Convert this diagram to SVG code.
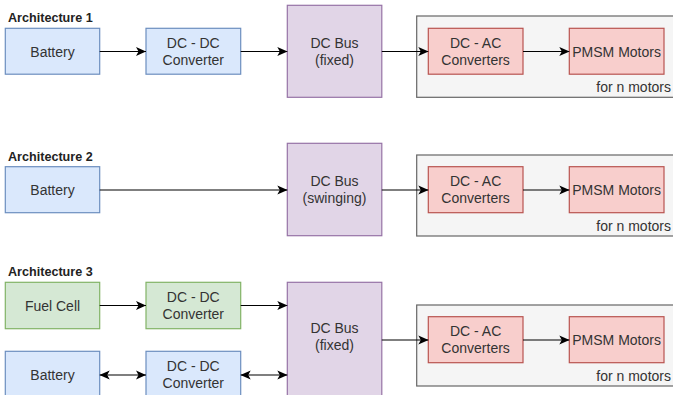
<svg xmlns="http://www.w3.org/2000/svg" width="673" height="395" viewBox="0 0 673 395">
<defs>
<marker id="ah" viewBox="0 0 10 10" refX="10" refY="5" markerWidth="10" markerHeight="10" markerUnits="userSpaceOnUse" orient="auto-start-reverse">
<path d="M0,0.5 L10,5 L0,9.5 L2.5,5 Z" fill="#000"/>
</marker>
<style>
text{font-family:"Liberation Sans",Arial,sans-serif;font-size:14px;fill:#333;}
.t{font-weight:bold;font-size:12.6px;fill:#222;}
.c{text-anchor:middle;}
.r{text-anchor:end;}
.blue{fill:#dae8fc;stroke:#6c8ebf;stroke-width:1.2;}
.green{fill:#d5e8d4;stroke:#82b366;stroke-width:1.2;}
.purple{fill:#e1d5e7;stroke:#9673a6;stroke-width:1.2;}
.red{fill:#f8cecc;stroke:#b85450;stroke-width:1.2;}
.grp{fill:#f5f5f5;stroke:#666;stroke-width:1.2;}
.e{fill:none;stroke:#000;stroke-width:1.2;}
</style>
</defs>
<rect width="673" height="395" fill="#fff"/>
<text class="t" x="8" y="22">Architecture 1</text>
<text class="t" x="8" y="161">Architecture 2</text>
<text class="t" x="8" y="276">Architecture 3</text>

<g id="a1-group"><rect class="grp" x="416.7" y="16" width="270" height="81.3"/><text class="r" x="671" y="92">for n motors</text></g>
<g id="a1-battery"><rect class="blue" x="5.3" y="28.3" width="94.4" height="45.9"/><text class="c" x="52.5" y="56.5">Battery</text></g>
<g id="a1-dcdc"><rect class="blue" x="146" y="28.3" width="94.7" height="45.9"/><text class="c" x="193.3" y="48">DC - DC</text><text class="c" x="193.3" y="65">Converter</text></g>
<g id="a1-bus"><rect class="purple" x="287.3" y="5.3" width="94.5" height="92"/><text class="c" x="334.5" y="48">DC Bus</text><text class="c" x="334.5" y="65">(fixed)</text></g>
<g id="a1-dcac"><rect class="red" x="428.3" y="28.3" width="94.7" height="45.9"/><text class="c" x="475.6" y="48">DC - AC</text><text class="c" x="475.6" y="65">Converters</text></g>
<g id="a1-pmsm"><rect class="red" x="569.3" y="28.3" width="94.7" height="45.9"/><text class="c" x="616.6" y="56.5">PMSM Motors</text></g>

<g id="a2-group"><rect class="grp" x="416.7" y="155" width="270" height="81"/><text class="r" x="671" y="231">for n motors</text></g>
<g id="a2-battery"><rect class="blue" x="5.3" y="166.7" width="94.4" height="46"/><text class="c" x="52.5" y="195">Battery</text></g>
<g id="a2-bus"><rect class="purple" x="287.3" y="143.3" width="94.5" height="92.4"/><text class="c" x="334.5" y="186">DC Bus</text><text class="c" x="334.5" y="203">(swinging)</text></g>
<g id="a2-dcac"><rect class="red" x="428.3" y="166.7" width="94.7" height="46"/><text class="c" x="475.6" y="186">DC - AC</text><text class="c" x="475.6" y="203">Converters</text></g>
<g id="a2-pmsm"><rect class="red" x="569.3" y="166.7" width="94.7" height="46"/><text class="c" x="616.6" y="195">PMSM Motors</text></g>

<g id="a3-group"><rect class="grp" x="416.7" y="305" width="270" height="81"/><text class="r" x="671" y="381">for n motors</text></g>
<g id="a3-fuel"><rect class="green" x="5.3" y="282.3" width="94.4" height="46.4"/><text class="c" x="52.5" y="310.5">Fuel Cell</text></g>
<g id="a3-dcdc1"><rect class="green" x="146" y="282.3" width="94.7" height="46.4"/><text class="c" x="193.3" y="302">DC - DC</text><text class="c" x="193.3" y="319">Converter</text></g>
<g id="a3-battery"><rect class="blue" x="5.3" y="351.3" width="94.4" height="46"/><text class="c" x="52.5" y="380">Battery</text></g>
<g id="a3-dcdc2"><rect class="blue" x="146" y="351.3" width="94.7" height="46"/><text class="c" x="193.3" y="371">DC - DC</text><text class="c" x="193.3" y="388">Converter</text></g>
<g id="a3-bus"><rect class="purple" x="287.3" y="282.3" width="94.5" height="120"/><text class="c" x="334.5" y="333">DC Bus</text><text class="c" x="334.5" y="350">(fixed)</text></g>
<g id="a3-dcac"><rect class="red" x="428.3" y="316.7" width="94.7" height="46"/><text class="c" x="475.6" y="336">DC - AC</text><text class="c" x="475.6" y="353">Converters</text></g>
<g id="a3-pmsm"><rect class="red" x="569.3" y="316.7" width="94.7" height="46"/><text class="c" x="616.6" y="345">PMSM Motors</text></g>

<g id="connectors">
<path class="e" d="M99.7,51.5 H146" marker-end="url(#ah)"/>
<path class="e" d="M240.7,51.5 H287.3" marker-end="url(#ah)"/>
<path class="e" d="M381.8,51.5 H428.3" marker-end="url(#ah)"/>
<path class="e" d="M523,51.5 H569.3" marker-end="url(#ah)"/>
<path class="e" d="M99.7,190 H287.3" marker-end="url(#ah)"/>
<path class="e" d="M381.8,190 H428.3" marker-end="url(#ah)"/>
<path class="e" d="M523,190 H569.3" marker-end="url(#ah)"/>
<path class="e" d="M99.7,305.5 H146" marker-end="url(#ah)"/>
<path class="e" d="M240.7,305.5 H287.3" marker-end="url(#ah)"/>
<path class="e" d="M99.7,375 H146" marker-start="url(#ah)" marker-end="url(#ah)"/>
<path class="e" d="M240.7,375 H287.3" marker-start="url(#ah)" marker-end="url(#ah)"/>
<path class="e" d="M381.8,340 H428.3" marker-end="url(#ah)"/>
<path class="e" d="M523,340 H569.3" marker-end="url(#ah)"/>
</g>
</svg>
